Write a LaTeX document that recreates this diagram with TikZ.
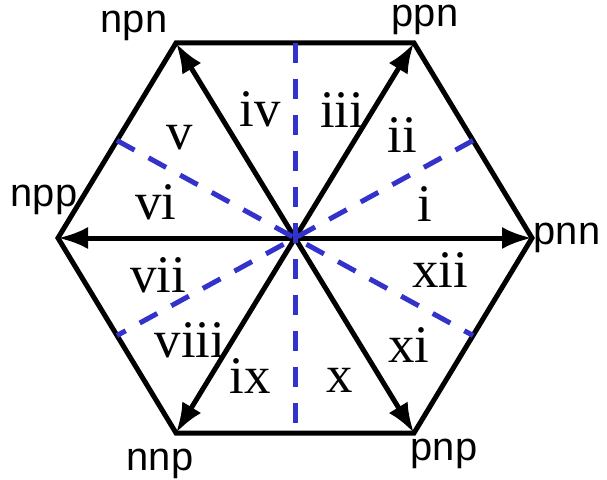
\documentclass[tikz,border=0pt]{standalone}
\usepackage{fontspec}
\setmainfont{Liberation Serif}
\newfontfamily\statefont{Liberation Sans}
\usetikzlibrary{arrows.meta}
\definecolor{sectorblue}{RGB}{51,51,204}

\begin{document}
\begin{tikzpicture}[
  x=1bp, y=-1bp,
  edge/.style={line width=5bp, line join=miter},
  vec/.style={line width=5bp, -{Latex[length=30bp, width=22bp]}},
  sector/.style={draw=sectorblue, line width=5bp, dash pattern=on 20bp off 16bp},
  num/.style={anchor=base, inner sep=0pt, font=\fontsize{53}{60}\selectfont},
  state/.style={anchor=base, inner sep=0pt, font=\statefont\fontsize{40}{48}\selectfont}
]
\useasboundingbox (0,0) rectangle (607,480);
% switching states (hexagon corners)
\coordinate (o)   at (295,238);
\coordinate (pnn) at (532,238);
\coordinate (ppn) at (414,43);
\coordinate (npn) at (176,43);
\coordinate (npp) at (58,238);
\coordinate (nnp) at (176,433);
\coordinate (pnp) at (414,433);
% edge midpoints for the sector borders
\coordinate (mt)  at (295,43);
\coordinate (mb)  at (295,433);
\coordinate (mtl) at (117,140.5);
\coordinate (mtr) at (473,140.5);
\coordinate (mbl) at (117,335.5);
\coordinate (mbr) at (473,335.5);
% hexagon
\draw[edge] (pnn) -- (ppn) -- (npn) -- (npp) -- (nnp) -- (pnp) -- cycle;
% voltage vectors
\draw[vec] (o) -- (pnn);
\draw[vec] (o) -- (ppn);
\draw[vec] (o) -- (npn);
\draw[vec] (o) -- (npp);
\draw[vec] (o) -- (nnp);
\draw[vec] (o) -- (pnp);
% sector borders
\draw[sector] (mt) -- (mb);
\draw[sector] (mtl) -- (mbr);
\draw[sector] (mtr) -- (mbl);
% state labels
\node[state] (lnpn) at (134,33)  {npn};
\node[state] (lppn) at (425,27)  {ppn};
\node[state] (lnpp) at (44,207)  {npp};
\node[state] (lpnn) at (567,244) {pnn};
\node[state] (lnnp) at (160,470) {nnp};
\node[state] (lpnp) at (444,460) {pnp};
% sector numbers
\node[num] (s1)  at (425,222) {i};
\node[num] (s2)  at (402,153) {ii};
\node[num] (s3)  at (342,128) {iii};
\node[num] (s4)  at (260,127) {iv};
\node[num] (s5)  at (180,150) {v};
\node[num] (s6)  at (156,220) {vi};
\node[num] (s7)  at (158,292) {vii};
\node[num] (s8)  at (190,357) {viii};
\node[num] (s9)  at (250,393) {ix};
\node[num] (s10) at (340,392) {x};
\node[num] (s11) at (409,362) {xi};
\node[num] (s12) at (440,287) {xii};
\end{tikzpicture}
\end{document}
